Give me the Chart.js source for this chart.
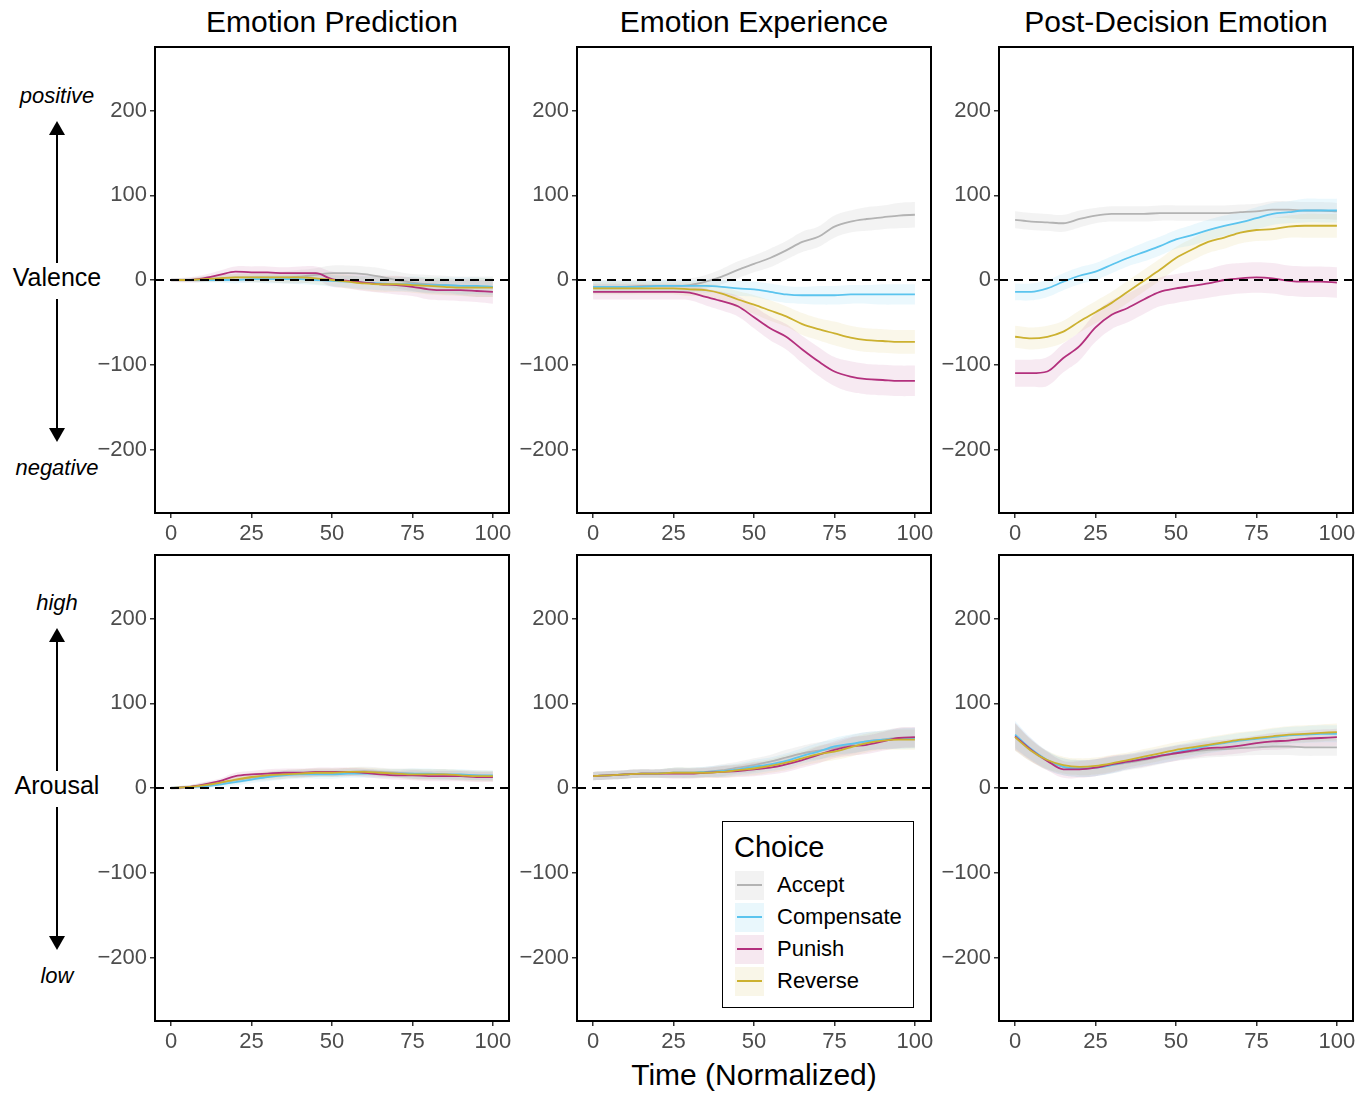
<!DOCTYPE html>
<html>
<head>
<meta charset="utf-8">
<script src="https://cdn.jsdelivr.net/npm/chart.js@4.4.1/dist/chart.umd.min.js"></script>
<style>
  body { margin: 0; background: #fff; width: 1370px; height: 1094px; position: relative; overflow: hidden;
         font-family: "Liberation Sans", Arial, sans-serif; }
  canvas { position: absolute; }
  .title { position: absolute; width: 354px; text-align: center; font-size: 30px; color: #000; top: 5px; white-space: nowrap; }
  .xtitle { position: absolute; left: 577px; width: 354px; text-align: center; top: 1058px; font-size: 30px; white-space: nowrap; }
  .side { position: absolute; width: 114px; left: 0; text-align: center; white-space: nowrap; }
  .side.big { font-size: 25px; }
  .side.it { font-size: 22px; font-style: italic; }
  #legend { position: absolute; left: 722px; top: 821px; width: 190px; height: 185px; border: 1.5px solid #000; background: #fff; }
  #legend .lt { position: absolute; left: 11px; top: 9px; font-size: 29px; }
  #legend .row { position: absolute; left: 12px; height: 32px; width: 170px; }
  #legend .key { position: absolute; left: 0; top: 2px; width: 29px; height: 29px; }
  #legend .key i { position: absolute; left: 2px; right: 2px; top: 13px; height: 2px; }
  #legend .lab { position: absolute; left: 42px; top: 3px; font-size: 22px; }
</style>
</head>
<body>

<div class="title" style="left:155px">Emotion Prediction</div>
<div class="title" style="left:577px">Emotion Experience</div>
<div class="title" style="left:999px">Post-Decision Emotion</div>
<div class="xtitle">Time (Normalized)</div>

<svg width="114" height="1094" style="position:absolute;left:0;top:0">
  <g stroke="#000" stroke-width="2" fill="#000">
    <line x1="57" y1="130" x2="57" y2="263"/>
    <polygon points="57,121 49,135 65,135" stroke="none"/>
    <line x1="57" y1="299" x2="57" y2="432"/>
    <polygon points="57,442 49,428 65,428" stroke="none"/>
    <line x1="57" y1="638" x2="57" y2="771"/>
    <polygon points="57,628 49,642 65,642" stroke="none"/>
    <line x1="57" y1="807" x2="57" y2="940"/>
    <polygon points="57,950 49,936 65,936" stroke="none"/>
  </g>
</svg>
<div class="side it" style="top:83px">positive</div>
<div class="side big" style="top:263px">Valence</div>
<div class="side it" style="top:455px">negative</div>
<div class="side it" style="top:590px">high</div>
<div class="side big" style="top:771px">Arousal</div>
<div class="side it" style="top:963px">low</div>

<canvas id="c1"></canvas><canvas id="c2"></canvas><canvas id="c3"></canvas>
<canvas id="c4"></canvas><canvas id="c5"></canvas><canvas id="c6"></canvas>

<div id="legend"><div class="lt">Choice</div></div>

<script>
// ===== DATA =====
const choices = ['Accept', 'Compensate', 'Punish', 'Reverse'];
const timePoints = [0, 5, 10, 15, 20, 25, 30, 35, 40, 45, 50, 55, 60, 65, 70, 75, 80, 85, 90, 95, 100];
const yTicks = [-200, -100, 0, 100, 200];
const xTicks = [0, 25, 50, 75, 100];

// rows: Accept, Compensate, Punish, Reverse
const predValence = [
  [0, 0, 1, 2, 3, 3, 3, 3, 4, 6, 8, 8, 7, 4, 0, -3, -5, -6, -7, -8, -8],
  [0, 0, 0, 0, 0, 1, 1, 1, 1, 0, -1, -2, -3, -4, -5, -5, -6, -6, -7, -7, -8],
  [0, 0, 2, 6, 10, 9, 9, 8, 8, 8, 1, -1, -3, -5, -6, -8, -11, -12, -12, -13, -14],
  [0, 0, 1, 2, 3, 3, 3, 3, 3, 2, 0, -2, -4, -5, -5, -6, -7, -8, -9, -9, -9]
];
const predValenceSE = [
  [2, 2, 3, 4, 5, 6, 6, 7, 8, 8, 9, 9, 9, 10, 10, 10, 11, 11, 11, 12, 12],
  [2, 2, 3, 3, 4, 4, 5, 5, 6, 6, 7, 7, 8, 8, 8, 9, 9, 9, 10, 10, 10],
  [2, 3, 4, 5, 6, 7, 7, 7, 8, 8, 9, 9, 10, 10, 11, 11, 12, 12, 13, 13, 14],
  [2, 2, 3, 4, 4, 5, 5, 6, 6, 7, 7, 8, 8, 9, 9, 9, 10, 10, 10, 11, 11]
];
const expValence = [
  [-8, -8, -8, -7, -7, -7, -6, -2, 4, 12, 19, 26, 35, 45, 51, 63, 69, 72, 74, 76, 77],
  [-8, -8, -8, -8, -7, -7, -7, -7, -8, -10, -11, -14, -17, -18, -18, -18, -17, -17, -17, -17, -17],
  [-14, -14, -14, -14, -14, -14, -15, -20, -25, -31, -44, -57, -67, -82, -96, -108, -114, -117, -118, -119, -119],
  [-10, -10, -10, -10, -10, -10, -11, -12, -16, -23, -29, -36, -43, -52, -58, -63, -68, -71, -72, -73, -73]
];
const expValenceSE = [
  [8, 8, 8, 8, 8, 8, 8, 8, 9, 10, 10, 11, 11, 12, 12, 13, 13, 14, 14, 15, 15],
  [7, 7, 7, 7, 7, 7, 7, 8, 8, 9, 9, 10, 10, 10, 11, 11, 11, 11, 12, 12, 12],
  [9, 9, 9, 9, 9, 9, 9, 10, 11, 12, 13, 14, 15, 16, 17, 17, 18, 18, 18, 18, 18],
  [7, 7, 7, 7, 7, 7, 8, 8, 9, 10, 11, 12, 12, 13, 13, 14, 14, 14, 14, 14, 14]
];
const postValence = [
  [71, 69, 68, 67, 72, 76, 78, 78, 78, 79, 79, 79, 79, 79, 80, 81, 83, 83, 82, 82, 81],
  [-14, -14, -10, -2, 5, 10, 18, 26, 33, 40, 48, 53, 59, 64, 68, 73, 78, 80, 82, 82, 82],
  [-110, -110, -108, -92, -78, -56, -41, -33, -23, -14, -10, -7, -4, 0, 2, 3, 2, -1, -2, -2, -3],
  [-67, -69, -67, -61, -49, -38, -27, -14, -1, 12, 26, 36, 45, 50, 56, 59, 60, 63, 64, 64, 64]
];
const postValenceSE = [
  [10, 10, 10, 10, 10, 9, 9, 9, 9, 9, 9, 9, 9, 9, 9, 9, 10, 10, 10, 10, 10],
  [10, 10, 10, 10, 10, 10, 10, 10, 11, 11, 11, 12, 12, 12, 12, 13, 13, 13, 14, 14, 14],
  [16, 16, 17, 17, 17, 17, 17, 17, 17, 17, 17, 17, 17, 18, 18, 18, 18, 18, 18, 18, 18],
  [13, 13, 13, 13, 13, 13, 13, 13, 13, 13, 13, 13, 13, 13, 13, 13, 13, 13, 14, 14, 14]
];
const predArousal = [
  [0, 1, 3, 6, 9, 12, 14, 16, 17, 18, 18, 19, 20, 19, 18, 17, 16, 16, 15, 15, 14],
  [0, 1, 2, 4, 7, 10, 13, 15, 16, 16, 16, 17, 17, 17, 17, 17, 17, 16, 16, 15, 15],
  [0, 1, 4, 8, 14, 16, 17, 18, 18, 19, 19, 19, 18, 16, 15, 15, 14, 14, 14, 13, 13],
  [0, 1, 3, 6, 10, 13, 15, 16, 17, 18, 18, 19, 19, 18, 17, 16, 16, 16, 15, 14, 14]
];
const predArousalSE = [
  [2, 2, 3, 3, 4, 4, 5, 5, 5, 5, 5, 5, 5, 5, 5, 6, 6, 6, 6, 6, 6],
  [2, 2, 3, 3, 4, 4, 5, 5, 5, 5, 5, 5, 5, 5, 5, 6, 6, 6, 6, 6, 6],
  [2, 2, 3, 3, 4, 4, 5, 5, 5, 5, 5, 5, 5, 5, 5, 6, 6, 6, 6, 6, 6],
  [2, 2, 3, 3, 4, 4, 5, 5, 5, 5, 5, 5, 5, 5, 5, 6, 6, 6, 6, 6, 6]
];
const expArousal = [
  [14, 15, 16, 17, 17, 18, 18, 19, 21, 24, 27, 31, 36, 41, 44, 47, 51, 55, 57, 59, 59],
  [14, 15, 16, 17, 17, 18, 18, 19, 20, 22, 25, 28, 32, 38, 43, 49, 52, 55, 57, 58, 59],
  [14, 15, 16, 17, 17, 17, 17, 18, 19, 20, 22, 24, 28, 33, 39, 45, 49, 51, 55, 59, 60],
  [14, 15, 16, 17, 17, 18, 18, 18, 19, 21, 23, 26, 30, 35, 40, 43, 48, 53, 56, 57, 57]
];
const expArousalSE = [
  [5, 5, 5, 5, 5, 6, 6, 6, 7, 7, 8, 8, 9, 9, 10, 10, 11, 11, 11, 12, 12],
  [5, 5, 5, 5, 5, 6, 6, 6, 7, 7, 8, 8, 9, 9, 10, 10, 11, 11, 11, 12, 12],
  [5, 5, 5, 5, 5, 6, 6, 6, 7, 7, 8, 8, 9, 9, 10, 10, 11, 11, 11, 12, 12],
  [5, 5, 5, 5, 5, 6, 6, 6, 7, 7, 8, 8, 9, 9, 10, 10, 11, 11, 11, 12, 12]
];
const postArousal = [
  [60, 44, 32, 25, 23, 24, 27, 30, 33, 37, 41, 43, 45, 46, 47, 48, 49, 49, 48, 48, 48],
  [63, 46, 33, 25, 23, 24, 27, 31, 35, 38, 42, 46, 50, 53, 56, 58, 60, 62, 63, 64, 64],
  [61, 45, 32, 22, 22, 24, 28, 31, 34, 38, 41, 44, 47, 48, 50, 53, 55, 56, 58, 59, 60],
  [60, 44, 33, 27, 25, 26, 29, 33, 37, 41, 45, 48, 51, 54, 57, 59, 61, 63, 64, 65, 66]
];
const postArousalSE = [
  [16, 13, 11, 10, 10, 10, 10, 9, 9, 9, 9, 9, 9, 9, 9, 9, 10, 10, 10, 10, 10],
  [16, 13, 11, 10, 10, 10, 10, 9, 9, 9, 9, 9, 9, 9, 9, 9, 10, 10, 10, 10, 10],
  [16, 13, 11, 10, 10, 10, 10, 9, 9, 9, 9, 9, 9, 9, 9, 9, 10, 10, 10, 10, 10],
  [16, 13, 11, 10, 10, 10, 10, 9, 9, 9, 9, 9, 9, 9, 9, 9, 10, 10, 10, 10, 10]
];

// ===== STYLE =====
const lineColors = ['#b3b3b3', '#5bc4ee', '#b3307d', '#ccb130'];
const bandColors = ['rgba(140,140,140,0.10)', 'rgba(91,196,238,0.12)', 'rgba(179,48,125,0.10)', 'rgba(204,177,48,0.10)'];
const keyColors = ['#f2f2f2', '#e9f7fc', '#f6e8f0', '#f9f6e8'];
const FONT = '"Liberation Sans", Arial, sans-serif';

// frame + dashed zero line (ggplot style)
const frameAndZero = {
  id: 'frameAndZero',
  afterDatasetsDraw(chart) {
    const { ctx, chartArea: a } = chart;
    const y0 = chart.scales.y.getPixelForValue(0);
    ctx.save();
    ctx.strokeStyle = '#000';
    ctx.lineWidth = 2;
    ctx.setLineDash([9, 6]);
    ctx.beginPath(); ctx.moveTo(a.left, y0); ctx.lineTo(a.right, y0); ctx.stroke();
    ctx.setLineDash([]);
    ctx.strokeRect(a.left, a.top, a.right - a.left, a.bottom - a.top);
    ctx.restore();
  }
};

function buildDatasets(means, ses) {
  const ds = [];
  choices.forEach((c, i) => {
    ds.push({ data: timePoints.map((t, k) => ({ x: t, y: means[i][k] + ses[i][k] })),
      fill: '+1', backgroundColor: bandColors[i], borderWidth: 0, pointRadius: 0, order: 2, tension: 0.4 });
    ds.push({ data: timePoints.map((t, k) => ({ x: t, y: means[i][k] - ses[i][k] })),
      fill: false, borderWidth: 0, pointRadius: 0, order: 2, tension: 0.4 });
  });
  choices.forEach((c, i) => {
    ds.push({ label: c, data: timePoints.map((t, k) => ({ x: t, y: means[i][k] })),
      borderColor: lineColors[i], borderWidth: 1.8, pointRadius: 0, fill: false,
      order: 1 + (3 - i) * 0.1, cubicInterpolationMode: 'monotone' });
  });
  return ds;
}

const YW = 80, XH = 45, PT = 10, PR = 15, PW = 354, PH = 466;

function makePanel(id, plotLeft, plotTop, means, ses) {
  const cv = document.getElementById(id);
  cv.width = YW + PW + PR; cv.height = PT + PH + XH;
  cv.style.left = (plotLeft - YW) + 'px';
  cv.style.top = (plotTop - PT) + 'px';
  new Chart(cv, {
    type: 'line',
    data: { datasets: buildDatasets(means, ses) },
    options: {
      responsive: false, animation: false, devicePixelRatio: 1,
      layout: { padding: { top: PT, right: PR, left: 0, bottom: 0 } },
      plugins: { legend: { display: false }, tooltip: { enabled: false } },
      scales: {
        x: {
          type: 'linear', min: -5, max: 105,
          afterBuildTicks: s => { s.ticks = xTicks.map(v => ({ value: v })); },
          afterFit: s => { s.height = XH; s.paddingLeft = 0; s.paddingRight = 0; },
          border: { display: false },
          grid: { drawOnChartArea: false, drawTicks: true, tickLength: 5, color: '#333', lineWidth: 1.5 },
          ticks: { color: '#4d4d4d', font: { family: FONT, size: 22 }, padding: 3, maxRotation: 0 }
        },
        y: {
          min: -275, max: 275,
          afterBuildTicks: s => { s.ticks = yTicks.map(v => ({ value: v })); },
          afterFit: s => { s.width = YW; s.paddingTop = 0; s.paddingBottom = 0; },
          border: { display: false },
          grid: { drawOnChartArea: false, drawTicks: true, tickLength: 5, color: '#333', lineWidth: 1.5 },
          ticks: { color: '#4d4d4d', font: { family: FONT, size: 22 }, padding: 3,
            callback: v => String(v).replace('-', '\u2212') }
        }
      }
    },
    plugins: [frameAndZero]
  });
}

makePanel('c1', 155, 47, predValence, predValenceSE);
makePanel('c2', 577, 47, expValence, expValenceSE);
makePanel('c3', 999, 47, postValence, postValenceSE);
makePanel('c4', 155, 555, predArousal, predArousalSE);
makePanel('c5', 577, 555, expArousal, expArousalSE);
makePanel('c6', 999, 555, postArousal, postArousalSE);

// ===== LEGEND =====
(function renderLegend() {
  const lg = document.getElementById('legend');
  choices.forEach((c, i) => {
    const row = document.createElement('div');
    row.className = 'row';
    row.style.top = (47 + i * 32) + 'px';
    row.innerHTML = `<div class="key" style="background:${keyColors[i]}"><i style="background:${lineColors[i]}"></i></div><div class="lab">${c}</div>`;
    lg.appendChild(row);
  });
})();
</script>
</body>
</html>
